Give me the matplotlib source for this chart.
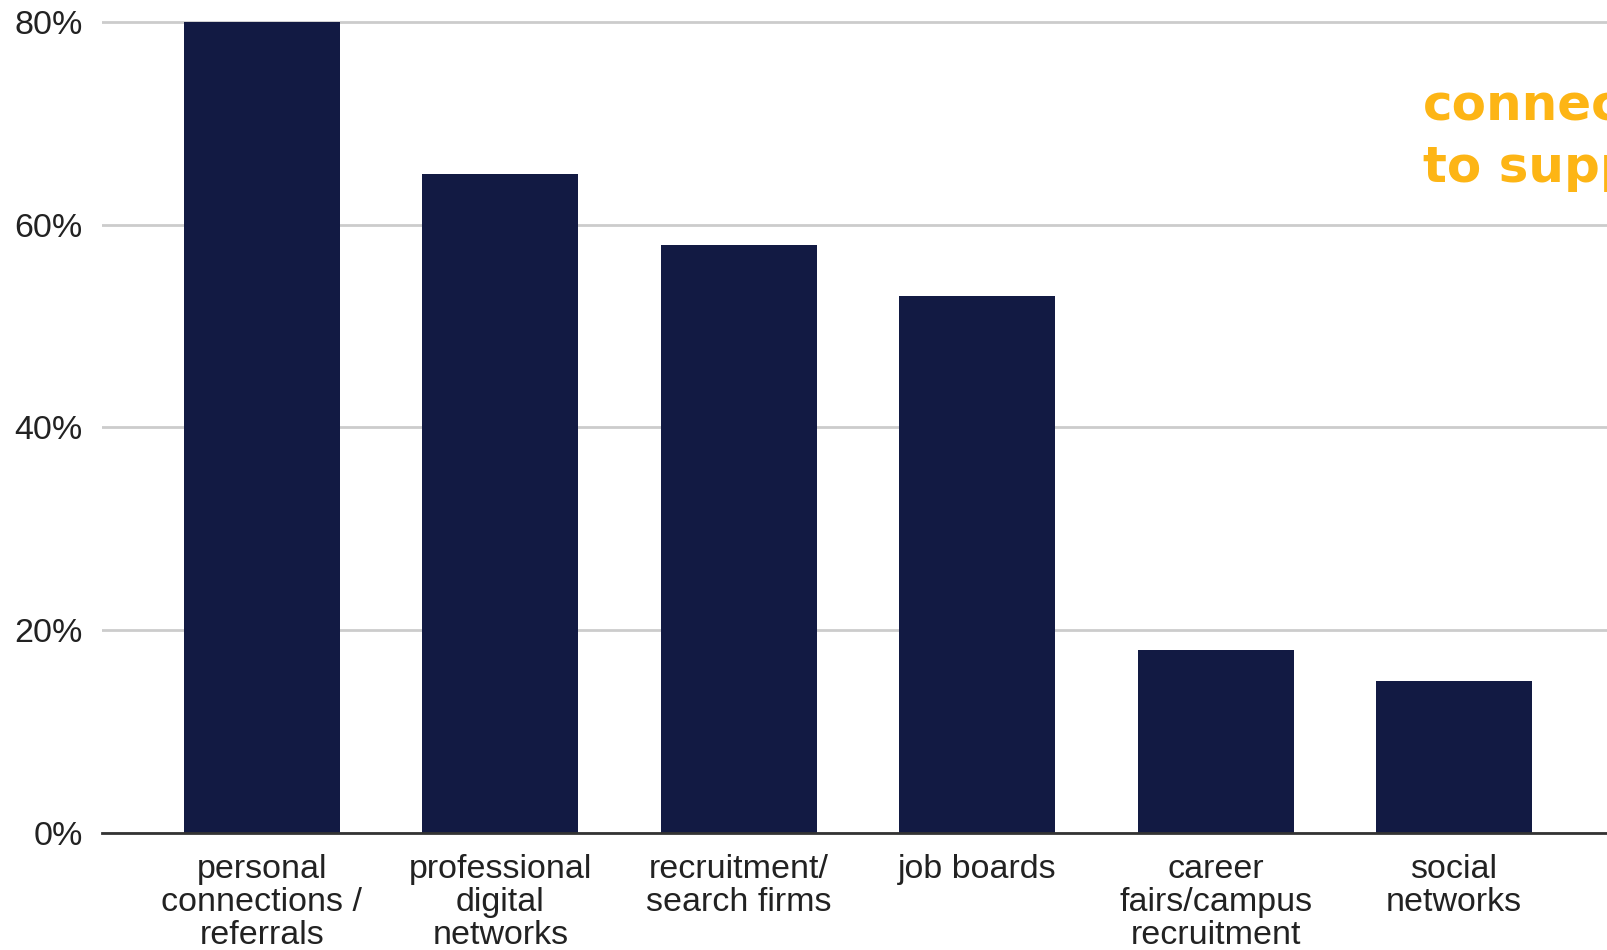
import matplotlib.pyplot as plt
from matplotlib.ticker import FuncFormatter

categories = ["personal\nconnections /\nreferrals", "professional\ndigital\nnetworks",
              "recruitment/\nsearch firms", "job boards",
              "career\nfairs/campus\nrecruitment", "social\nnetworks"]
values = [80, 65, 58, 53, 18, 15]
y_ticks = [0, 20, 40, 60, 80]

plt.rcParams['font.family'] = ['Liberation Sans', 'DejaVu Sans']

fig = plt.figure(figsize=(16.08, 9.5), dpi=100)
# axes: left edge at x=102px, 0% at y=833px, ~10.14px per percent
ymax = 81
bottom = (950 - 833) / 950
height = ymax * 10.14 / 950
ax = fig.add_axes([102 / 1608, bottom, 1 - 102 / 1608, height])

x = range(len(categories))
ax.bar(x, values, width=0.655, color='#121a43', zorder=3)

ax.set_xlim(-0.671, 5.646)
ax.set_ylim(0, ymax)
ax.set_yticks(y_ticks)
ax.yaxis.set_major_formatter(FuncFormatter(lambda v, p: f"{v:.0f}%"))
ax.set_xticks(list(x))
ax.set_xticklabels(categories, linespacing=1.08)

ax.grid(axis='y', color='#cccccc', linewidth=2, zorder=0)
for s in ['top', 'right', 'left']:
    ax.spines[s].set_visible(False)
ax.spines['bottom'].set_color('#333333')
ax.spines['bottom'].set_linewidth(2)
ax.spines['bottom'].set_zorder(4)
ax.tick_params(axis='both', length=0, labelcolor='#222222')
ax.tick_params(axis='y', labelsize=24.5, pad=14)
ax.tick_params(axis='x', labelsize=24.5, pad=15)

# cut-off annotation at the right edge (runs off the figure as in the source)
fig.text(1423 / 1608, 1 - 119 / 950, "connections", color='#fdb515', fontsize=36,
         fontweight='heavy', family='DejaVu Sans', va='baseline')
fig.text(1423 / 1608, 1 - 181.5 / 950, "to support", color='#fdb515', fontsize=36,
         fontweight='heavy', family='DejaVu Sans', va='baseline')

plt.savefig('out.png', dpi=100)
